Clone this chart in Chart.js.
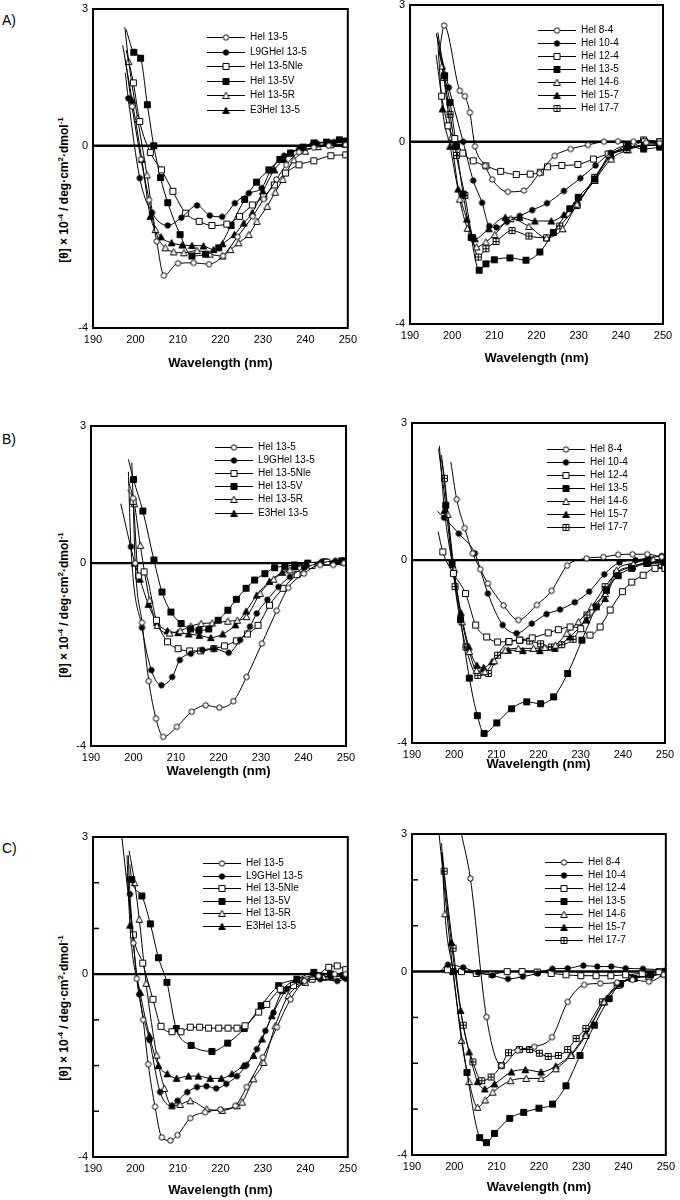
<!DOCTYPE html>
<html>
<head>
<meta charset="utf-8">
<script src="https://cdn.jsdelivr.net/npm/chart.js@4.4.0/dist/chart.umd.min.js"></script>
<style>
  body { margin:0; background:#fff; width:680px; height:1200px; position:relative; overflow:hidden; font-family:"Liberation Sans", Arial, sans-serif; color:#000; }
  canvas { position:absolute; }
  .tag { position:absolute; left:2px; font-size:14px; }
  .ytitle { position:absolute; left:63px; font-size:12px; font-weight:bold; white-space:nowrap; transform:translate(-50%,-50%) rotate(-90deg); }
  .ytitle sup { font-size:8px; }
</style>
</head>
<body>
<div class="tag" style="top:12px">A)</div>
<div class="tag" style="top:431px">B)</div>
<div class="tag" style="top:840px">C)</div>
<div class="ytitle" style="top:190px">[θ] × 10<sup>-4</sup> / deg·cm<sup>2</sup>·dmol<sup>-1</sup></div>
<div class="ytitle" style="top:605px">[θ] × 10<sup>-4</sup> / deg·cm<sup>2</sup>·dmol<sup>-1</sup></div>
<div class="ytitle" style="top:1008px">[θ] × 10<sup>-4</sup> / deg·cm<sup>2</sup>·dmol<sup>-1</sup></div>
<script>
// axis ticks
const wavelengthTicks = [190, 200, 210, 220, 230, 240, 250];
const thetaTickLabels = [3, 0, -4];
const thetaMinorTicks = [2, 1, -1, -2, -3];

// legend names
const leftNames = ['Hel 13-5', 'L9GHel 13-5', 'Hel 13-5Nle', 'Hel 13-5V', 'Hel 13-5R', 'E3Hel 13-5'];
const rightNames = ['Hel 8-4', 'Hel 10-4', 'Hel 12-4', 'Hel 13-5', 'Hel 14-6', 'Hel 15-7', 'Hel 17-7'];

// ---- panel A, left : [wavelength nm, value]
const aL_hel13_5 = [[197.6,1.9],[199.2,0.86],[201.3,-0.3],[203.2,-1.19],[205,-2.1],[206.7,-2.85],[210,-2.58],[213.7,-2.57],[217.3,-2.6],[220.6,-2.42],[224,-2.0],[227.6,-1.55],[230.2,-1.17],[233.2,-0.74],[235.5,-0.42],[238.5,-0.14],[242,-0.04],[245.5,0.0],[249.5,0.02]];
const aL_l9g = [[197.6,1.6],[198.3,1.04],[201,-0.71],[203.9,-1.47],[207.6,-1.75],[210.8,-1.58],[214.5,-1.31],[217.5,-1.53],[220.4,-1.56],[223.4,-1.26],[226.7,-1.04],[229.7,-0.93],[231.8,-0.55],[235,-0.22],[238.5,-0.08],[242.7,0.05],[246.7,0.08],[249.5,0.1]];
const aL_nle = [[197.8,2.1],[199.5,1.38],[201,0.53],[203.5,-0.15],[206.1,-0.53],[208.8,-1.0],[211.8,-1.48],[215,-1.66],[218,-1.75],[221.5,-1.72],[224.5,-1.55],[227.5,-1.3],[230.2,-1.12],[232.7,-0.86],[235.3,-0.6],[238.5,-0.42],[242,-0.33],[246,-0.22],[249.5,-0.2]];
const aL_v = [[197.8,2.55],[199.6,2.05],[201.2,1.92],[202.8,0.9],[204.3,0.0],[205.9,-0.7],[207.6,-1.25],[210.5,-1.95],[213.3,-2.42],[216.5,-2.38],[219.6,-2.24],[222.5,-1.75],[225.7,-1.18],[228.5,-0.8],[231.4,-0.53],[234,-0.3],[236.5,-0.16],[239.5,-0.03],[242,0.06],[245,0.08],[248,0.13],[249.5,0.1]];
const aL_r = [[197.5,2.6],[198.4,1.85],[200.5,0.6],[202.7,-0.64],[204.7,-1.84],[207,-2.24],[209,-2.33],[211.4,-2.35],[214.5,-2.3],[217.5,-2.38],[220.5,-2.42],[222.4,-2.28],[224.3,-2.13],[226.7,-1.95],[228.6,-1.66],[231,-1.33],[232.9,-1.02],[234.7,-0.74],[237.3,-0.31],[240,-0.12],[243,-0.02],[246,0.02],[249.5,0.03]];
const aL_e3 = [[197,2.2],[199.2,1.0],[201.5,-0.3],[203.5,-1.55],[206,-2.0],[208.5,-2.13],[211,-2.18],[213.3,-2.19],[216,-2.2],[218.4,-2.28],[220.5,-2.15],[223.3,-1.95],[225.5,-1.7],[227.5,-1.47],[230,-1.0],[232.7,-0.53],[235,-0.3],[236.6,-0.16],[239,-0.05],[242.4,0.07],[246,0.06],[249.5,0.08]];

// ---- panel A, right
const aR_hel8_4 = [[197,2.0],[198.1,2.55],[201.8,1.12],[203,1.0],[204.2,0.64],[205.4,-0.1],[207.8,-0.53],[209.5,-0.83],[213.2,-1.1],[217,-1.07],[220.7,-0.69],[224.3,-0.31],[228.1,-0.16],[232.2,-0.07],[236,0.0],[239.3,0.01],[243,0.0],[246,-0.02],[249.2,-0.03]];
const aR_hel10_4 = [[196.2,2.38],[199.2,1.19],[202.6,0.0],[205,-0.85],[207.1,-1.34],[208.8,-1.85],[210.5,-1.88],[213,-1.76],[216,-1.63],[219,-1.5],[222.5,-1.35],[226.5,-1.08],[230.4,-0.8],[234,-0.52],[237.6,-0.25],[241.4,-0.15],[245.6,-0.06],[249.3,-0.04]];
const aR_hel12_4 = [[196.2,1.9],[197.5,1.0],[199,0.35],[200.6,0.07],[202.5,-0.25],[205,-0.42],[208,-0.53],[211.5,-0.65],[215.2,-0.72],[218.5,-0.71],[220.9,-0.67],[222.6,-0.55],[226,-0.52],[229.8,-0.5],[233.5,-0.38],[237,-0.27],[241.4,-0.17],[245.6,0.0],[249.3,0.0]];
const aR_hel13_5 = [[196.6,2.4],[198.2,1.45],[199.5,0.86],[201,-0.1],[202.6,-1.15],[204.5,-2.1],[206.4,-2.82],[208,-2.68],[210,-2.59],[213.7,-2.55],[217.5,-2.6],[220.8,-2.42],[224,-1.99],[227.9,-1.47],[229.9,-1.22],[233.8,-0.82],[237.4,-0.27],[241.7,-0.09],[245.4,-0.16],[249.2,-0.12]];
const aR_hel14_6 = [[196.8,2.0],[197.6,1.66],[199.8,0.1],[201.8,-1.26],[203.6,-1.9],[205.8,-2.31],[208,-2.2],[210.1,-2.04],[213.9,-1.69],[218.2,-1.86],[222.4,-2.11],[226.2,-1.91],[229.6,-1.37],[233.8,-0.85],[237.7,-0.38],[241.7,-0.18],[245.4,-0.09],[249.3,-0.08]];
const aR_hel15_7 = [[196.5,2.3],[197.7,0.72],[199.5,-0.1],[201.4,-1.04],[203.5,-1.7],[205.4,-2.13],[208.7,-1.91],[212.6,-1.66],[216,-1.66],[219.6,-1.74],[223.5,-1.74],[226.5,-1.6],[229.6,-1.33],[233.8,-0.82],[237.7,-0.31],[241.4,-0.15],[245.4,-0.09],[249.3,-0.06]];
const aR_hel17_7 = [[197,2.0],[198.1,1.41],[199.5,0.6],[201,-0.3],[203,-1.18],[204.8,-2.1],[206.2,-2.53],[208,-2.35],[210.4,-2.19],[214.2,-1.95],[218.2,-2.07],[222.4,-2.11],[225.5,-1.85],[229.6,-1.4],[233.8,-0.78],[237.5,-0.31],[241.3,-0.09],[245.4,0.04],[249.2,0.0]];

// ---- panel B, left
const bL_hel13_5 = [[199.6,2.2],[199.9,1.42],[200.4,0.0],[202,-1.3],[203.6,-2.58],[205.3,-3.4],[207,-3.8],[210.2,-3.58],[213.7,-3.25],[217,-3.11],[220.2,-3.16],[223.5,-3.02],[226.6,-2.49],[230.2,-1.76],[233.7,-1.04],[236.4,-0.54],[240.1,-0.23],[243.9,-0.04],[247,-0.04],[249.5,0.0]];
const bL_l9g = [[198.8,2.0],[199.4,0.36],[202,-1.41],[204.2,-2.34],[206.6,-2.67],[209.1,-2.49],[210.9,-2.12],[213.5,-1.98],[216.2,-1.9],[218.9,-1.87],[222.4,-1.96],[225.1,-1.68],[227.4,-1.39],[229,-1.1],[231.5,-0.8],[234.1,-0.52],[236.8,-0.3],[240.2,-0.1],[244,0.0],[247.5,0.05],[249.5,0.05]];
const bL_nle = [[198.6,1.6],[199.9,1.35],[201.2,-0.28],[202.5,-0.19],[205.4,-1.25],[208,-1.72],[210.5,-1.87],[213.2,-1.92],[215.8,-1.92],[218.9,-1.87],[221.4,-1.81],[224.2,-1.7],[226.8,-1.55],[229.3,-1.36],[232,-0.92],[235.2,-0.55],[238.5,-0.25],[242,-0.05],[245.5,0.02],[249.5,0.02]];
const bL_v = [[198.8,2.27],[200,1.83],[202.2,1.14],[204.8,0.07],[206.7,-0.63],[208.8,-1.07],[211.2,-1.32],[213.4,-1.44],[215.4,-1.47],[217.7,-1.44],[219.9,-1.25],[222.2,-1.03],[224.2,-0.79],[226.5,-0.55],[228.5,-0.37],[230.9,-0.23],[233.2,-0.1],[235.6,-0.07],[237.9,-0.04],[241,0.0],[245,0.03],[249,0.05]];
const bL_r = [[198.8,1.8],[200.2,1.3],[201.6,0.39],[203.8,-0.81],[205.6,-1.36],[208.5,-1.53],[211,-1.48],[213.5,-1.38],[215.9,-1.32],[218.5,-1.31],[222.2,-1.27],[224.4,-1.25],[226.6,-1.17],[229.8,-0.66],[233,-0.35],[236.8,-0.15],[240.2,-0.04],[244,0.02],[249,0.05]];
const bL_e3 = [[197,1.3],[200.3,0.0],[201.5,-0.35],[203.5,-0.9],[205.5,-1.3],[208,-1.48],[210.5,-1.52],[213,-1.55],[215.5,-1.58],[218.2,-1.63],[221,-1.55],[224,-1.35],[226.5,-1.05],[229,-0.7],[232,-0.4],[235,-0.2],[238,-0.08],[241,0.0],[245,0.03],[249,0.05]];

// ---- panel B, right
const bR_hel8_4 = [[199.2,2.15],[200.6,1.33],[202.5,0.7],[204.4,0.15],[206.2,-0.2],[208,-0.51],[211.7,-0.99],[215.2,-1.31],[219.6,-0.98],[223.1,-0.67],[226.8,-0.12],[231.4,0.04],[235.4,0.07],[238.9,0.12],[242.3,0.13],[245.8,0.13],[249.2,0.07]];
const bR_hel10_4 = [[196,1.07],[197.6,0.93],[201.1,0.58],[204.9,0.15],[208,-0.73],[211.5,-1.42],[214.8,-1.6],[218.4,-1.39],[221.9,-1.18],[225.1,-1.08],[228.6,-0.92],[232,-0.69],[235.6,-0.31],[239.2,-0.05],[243,0.0],[246,0.05],[249.2,0.09]];
const bR_hel12_4 = [[196.2,0.62],[197.3,0.18],[199.8,-0.29],[202.7,-0.73],[205.1,-1.42],[207.7,-1.68],[210.3,-1.79],[213,-1.78],[215.5,-1.75],[218.5,-1.7],[222.3,-1.59],[224.7,-1.52],[227.5,-1.46],[230,-1.5],[232.2,-1.64],[234.6,-1.46],[237,-1.09],[239.9,-0.69],[242.1,-0.48],[244.8,-0.33],[247.6,-0.18],[250,-0.18]];
const bR_hel13_5 = [[196.3,2.44],[198,1.2],[199.5,-0.05],[201.5,-1.3],[203.6,-2.58],[205.5,-3.4],[207.1,-3.79],[210.1,-3.56],[213.6,-3.25],[217.2,-3.1],[220.5,-3.14],[223.6,-2.99],[226.9,-2.48],[230.3,-1.75],[233.7,-1.02],[236.1,-0.66],[238.9,-0.34],[242.1,-0.18],[245.7,-0.07],[249.6,0.0]];
const bR_hel14_6 = [[197,2.3],[198.5,1.0],[200,-0.2],[201.9,-1.35],[203.6,-2.0],[205.3,-2.41],[207.3,-2.44],[209.5,-2.2],[212.1,-1.97],[215.2,-1.93],[218.8,-1.93],[221.5,-1.91],[224,-1.86],[226.7,-1.6],[229.5,-1.35],[232.6,-1.02],[235.8,-0.73],[238.5,-0.22],[242.5,-0.07],[247.2,0.02],[250,-0.15]];
const bR_hel15_7 = [[196.5,2.5],[197.7,1.09],[199.6,-0.1],[201.6,-1.15],[203.5,-1.9],[205.4,-2.3],[207,-2.35],[209,-2.22],[212.8,-1.97],[216.3,-1.98],[220.3,-1.98],[223.9,-1.93],[227.4,-1.68],[231.4,-1.31],[235.8,-0.84],[238.5,-0.29],[242.3,-0.14],[246,-0.05],[249.9,-0.05]];
const bR_hel17_7 = [[197,2.2],[197.7,1.79],[200.2,-0.58],[202.8,-1.9],[205.6,-2.52],[208.1,-2.48],[210.3,-2.08],[212.9,-1.79],[215.6,-1.75],[217.9,-1.77],[220.5,-1.83],[223.1,-1.9],[225.5,-1.85],[228.2,-1.73],[231.5,-1.2],[235.8,-0.58],[238.5,-0.29],[242.1,-0.15],[245.7,-0.07],[249.2,-0.09]];

// ---- panel C, left
const cL_hel13_5 = [[196.8,3.0],[199.5,0.68],[200.3,-0.1],[201.8,-1.0],[203,-1.97],[204.6,-2.9],[206.2,-3.57],[208.2,-3.64],[209.9,-3.52],[212.9,-3.15],[216.4,-3.02],[220,-2.96],[223.5,-2.88],[226.2,-2.47],[230,-1.82],[233.3,-1.16],[236.5,-0.55],[239.8,-0.15],[243.1,-0.04],[246.9,0.0],[249.5,0.0]];
const cL_l9g = [[198.3,2.6],[198.7,1.75],[200.9,-0.44],[203.3,-1.44],[205.8,-2.58],[208.6,-2.88],[209.9,-2.77],[212.2,-2.58],[214.5,-2.47],[216.7,-2.45],[219,-2.5],[221.4,-2.4],[223.9,-2.23],[226.1,-1.99],[228.6,-1.64],[230.6,-1.24],[232.5,-0.84],[235.7,-0.33],[239.6,-0.15],[243.5,-0.11],[247.5,-0.15],[249.5,-0.1]];
const cL_nle = [[198,2.2],[199.5,0.86],[201.7,0.24],[204.1,-0.55],[206,-1.14],[208.6,-1.26],[210.7,-1.26],[212.9,-1.16],[215.1,-1.16],[217.2,-1.18],[219.6,-1.18],[221.8,-1.18],[223.9,-1.18],[225.8,-1.13],[229,-0.83],[230.9,-0.66],[234.1,-0.33],[237.2,-0.25],[241.6,-0.11],[245.5,0.15],[247.5,0.18],[249.5,0.1]];
const cL_v = [[198.7,2.4],[199.1,2.07],[201.5,1.71],[203.5,1.1],[205.4,0.36],[207.4,-0.18],[209.6,-1.19],[213.1,-1.56],[218,-1.69],[221.7,-1.51],[225.6,-1.19],[229.6,-0.69],[233.7,-0.25],[238,-0.11],[242,0.04],[245.9,0.0],[249,-0.03]];
const cL_r = [[198.5,2.7],[199.8,2.0],[200.9,1.2],[202.5,-0.2],[205,-1.77],[206.8,-2.5],[208.6,-2.88],[210.5,-2.85],[212.9,-2.77],[216.8,-2.95],[220.4,-2.98],[223.9,-2.88],[225.1,-2.8],[227.8,-2.29],[230.2,-1.93],[232.9,-1.13],[236,-0.47],[240,-0.18],[244.3,-0.07],[249,-0.03]];
const cL_e3 = [[198,2.6],[198.7,1.07],[201.1,-0.4],[203.3,-1.35],[205.4,-2.0],[207.5,-2.18],[209.7,-2.28],[212.5,-2.23],[214.8,-2.23],[217.6,-2.28],[220.2,-2.28],[222.7,-2.18],[225.4,-2.0],[227.8,-1.78],[229.8,-1.42],[232.1,-0.91],[234.6,-0.36],[238,-0.12],[242,-0.05],[246,-0.05],[249.5,-0.05]];

// ---- panel C, right
const cR_hel8_4 = [[201.7,3.0],[203.8,2.03],[207.6,-0.99],[211.1,-2.05],[215,-1.72],[218.9,-1.64],[223.1,-1.43],[226.8,-0.66],[230.7,-0.29],[234.5,-0.26],[238.5,-0.24],[242.1,-0.18],[246,-0.22],[249.5,-0.07]];
const cR_hel10_4 = [[196.6,0.0],[198.5,0.15],[202.1,0.09],[205.6,-0.02],[209,-0.08],[212.7,-0.16],[216.2,-0.11],[219.7,-0.04],[223.2,0.06],[226.8,0.07],[230.5,0.13],[233.8,0.11],[237.1,0.11],[240.5,0.07],[244.6,0.06],[250,0.03]];
const cR_hel12_4 = [[196.6,0.02],[198.4,0.04],[201.7,0.0],[205.2,-0.04],[208.9,-0.06],[212.5,0.0],[216,0.0],[219.6,-0.01],[222.9,-0.04],[226.4,-0.07],[229.9,-0.09],[233.5,-0.09],[237,-0.09],[240.5,-0.07],[244.4,-0.04],[248.4,0.0],[250,0.0]];
const cR_hel13_5 = [[196.4,3.0],[199.7,0.0],[203,-2.2],[206,-3.62],[207.6,-3.73],[209.5,-3.53],[213.1,-3.2],[216.4,-3.07],[220,-2.98],[223.2,-2.89],[226.4,-2.49],[229.7,-1.83],[233.1,-1.17],[236.6,-0.59],[239.3,-0.26],[242.5,-0.15],[246.4,-0.07],[249.9,0.0]];
const cR_hel14_6 = [[197,2.8],[197.8,1.26],[199.7,0.0],[201.7,-1.5],[203.5,-2.4],[205.5,-2.96],[207.3,-2.8],[209.1,-2.63],[213.3,-2.38],[217,-2.33],[220.5,-2.33],[224,-2.12],[227.6,-1.83],[231.1,-1.39],[235.4,-0.66],[239,-0.29],[242.1,-0.15],[246,-0.11],[249.5,-0.04]];
const cR_hel15_7 = [[197,2.6],[199.3,0.64],[201.5,-0.85],[203.5,-1.75],[205.5,-2.4],[207.2,-2.56],[209.5,-2.45],[213.5,-2.19],[216.8,-2.14],[220.5,-2.19],[224,-2.06],[227.6,-1.8],[231.1,-1.35],[235.4,-0.66],[239,-0.27],[242.1,-0.13],[246,-0.09],[249.5,-0.04]];
const cR_hel17_7 = [[197.2,2.6],[197.6,2.19],[199.7,0.51],[202.1,-1.17],[204.4,-1.97],[206.5,-2.38],[208.7,-2.3],[211.1,-2.05],[212.8,-1.77],[215.4,-1.7],[217.8,-1.7],[220.1,-1.78],[222.2,-1.85],[224.6,-1.83],[226.8,-1.7],[228.8,-1.46],[231.1,-1.24],[235,-0.66],[238.5,-0.3],[242,-0.15],[246,-0.08],[249.5,-0.05]];


// small marker images, used both on the curves and in the legends
function makeMarker(kind){
  const c = document.createElement('canvas');
  c.width = 9; c.height = 9;
  const g = c.getContext('2d');
  g.lineWidth = 1;
  g.strokeStyle = '#000';
  g.fillStyle = kind.startsWith('filled') ? '#000' : '#fff';
  g.beginPath();
  if (kind.endsWith('Circle')) g.arc(4.5, 4.5, 2.7, 0, Math.PI * 2);
  else if (kind.endsWith('Square')) g.rect(1.5, 1.5, 6, 6);
  else { g.moveTo(4.5, 1.2); g.lineTo(7.8, 7.5); g.lineTo(1.2, 7.5); g.closePath(); }
  g.fill();
  g.stroke();
  if (kind === 'crossSquare') {
    g.beginPath();
    g.moveTo(4.5, 1.5); g.lineTo(4.5, 7.5);
    g.moveTo(1.5, 4.5); g.lineTo(7.5, 4.5);
    g.stroke();
  }
  return c;
}
const leftMarkers = ['openCircle','filledCircle','openSquare','filledSquare','openTriangle','filledTriangle'];
const rightMarkers = ['openCircle','filledCircle','openSquare','filledSquare','openTriangle','filledTriangle','crossSquare'];
const markerImg = {};
rightMarkers.forEach(k => markerImg[k] = makeMarker(k));

// plot box [left, top, right, bottom] on the page, x-title centre, legend [x, y, row gap] inside plot
const panels = [
  {names:leftNames,  markers:leftMarkers,  series:[aL_hel13_5,aL_l9g,aL_nle,aL_v,aL_r,aL_e3], box:[93,9,348,328],   xTitleY:363,  legend:[114,28,14.5], innerTicks:false},
  {names:rightNames, markers:rightMarkers, series:[aR_hel8_4,aR_hel10_4,aR_hel12_4,aR_hel13_5,aR_hel14_6,aR_hel15_7,aR_hel17_7], box:[410,5,663,324], xTitleY:358, legend:[128,25,13], innerTicks:false},
  {names:leftNames,  markers:leftMarkers,  series:[bL_hel13_5,bL_l9g,bL_nle,bL_v,bL_r,bL_e3], box:[91,426,346,746], xTitleY:771,  legend:[124,21,13.1], innerTicks:false},
  {names:rightNames, markers:rightMarkers, series:[bR_hel8_4,bR_hel10_4,bR_hel12_4,bR_hel13_5,bR_hel14_6,bR_hel15_7,bR_hel17_7], box:[412,423,665,743], xTitleY:764, legend:[135,26,13], innerTicks:false},
  {names:leftNames,  markers:leftMarkers,  series:[cL_hel13_5,cL_l9g,cL_nle,cL_v,cL_r,cL_e3], box:[93,837,348,1157], xTitleY:1190, legend:[110,26,12.6], innerTicks:true},
  {names:rightNames, markers:rightMarkers, series:[cR_hel8_4,cR_hel10_4,cR_hel12_4,cR_hel13_5,cR_hel14_6,cR_hel15_7,cR_hel17_7], box:[412,834,667,1155], xTitleY:1187, legend:[133,28,13], innerTicks:true},
];

function framePlugin(p){
  return {
    id: 'frame',
    beforeDatasetsDraw(chart){
      const {ctx, chartArea:a} = chart;
      const y0 = chart.scales.y.getPixelForValue(0);
      ctx.save();
      ctx.strokeStyle = '#000';
      ctx.lineWidth = 2.4;
      ctx.beginPath();
      ctx.moveTo(a.left, y0);
      ctx.lineTo(a.right, y0);
      ctx.stroke();
      ctx.restore();
    },
    afterDraw(chart){
      const {ctx, chartArea:a} = chart;
      ctx.save();
      ctx.strokeStyle = '#000';
      ctx.lineWidth = 2;
      ctx.strokeRect(a.left, a.top, a.right - a.left, a.bottom - a.top);
      if (p.innerTicks) {
        ctx.lineWidth = 1.5;
        thetaMinorTicks.forEach(v => {
          const y = chart.scales.y.getPixelForValue(v);
          ctx.beginPath();
          ctx.moveTo(a.left, y);
          ctx.lineTo(a.left + 6, y);
          ctx.stroke();
        });
      }
      // legend
      const [lx, ly, gap] = p.legend;
      ctx.lineWidth = 1;
      ctx.font = '10px "Liberation Sans", Arial, sans-serif';
      ctx.fillStyle = '#000';
      ctx.textBaseline = 'middle';
      p.names.forEach((name, i) => {
        const x = a.left + lx, y = Math.round(a.top + ly + i * gap) + 0.5;
        ctx.beginPath();
        ctx.moveTo(x, y);
        ctx.lineTo(x + 38, y);
        ctx.stroke();
        ctx.drawImage(markerImg[p.markers[i]], Math.round(x + 19) - 4.5, y - 4.5);
        ctx.fillText(name, x + 43, y);
      });
      ctx.restore();
    }
  };
}

panels.forEach(p => {
  const [bl, bt, br, bb] = p.box;
  const cl = bl < 380 ? 0 : 350;
  const cw = bl < 380 ? 362 : 330;
  const ct = bt - 12;
  const ch = p.xTitleY + 12 - ct;
  const cv = document.createElement('canvas');
  cv.width = cw; cv.height = ch;
  cv.style.left = cl + 'px';
  cv.style.top = ct + 'px';
  document.body.appendChild(cv);

  new Chart(cv, {
    type: 'line',
    data: {
      datasets: p.series.map((s, i) => ({
        label: p.names[i],
        data: s.map(d => ({x: d[0], y: d[1]})),
        borderColor: '#000',
        borderWidth: 1,
        fill: false,
        cubicInterpolationMode: 'monotone',
        pointStyle: markerImg[p.markers[i]],
        pointRadius: c => c.dataIndex === 0 ? 0 : 3,
      }))
    },
    options: {
      responsive: false,
      animation: false,
      events: [],
      layout: { autoPadding: false, padding: { left: 0, top: bt - ct, right: cl + cw - br, bottom: 0 } },
      plugins: { legend: { display: false }, tooltip: { enabled: false } },
      scales: {
        x: {
          type: 'linear', min: 190, max: 250,
          afterFit: s => { s.height = p.xTitleY + 12 - bb; },
          afterBuildTicks: s => { s.ticks = wavelengthTicks.map(v => ({value: v})); },
          grid: { display: false, drawTicks: false },
          border: { display: false },
          ticks: { color: '#000', font: { size: 11, family: '"Liberation Sans", Arial, sans-serif' }, padding: 5, maxRotation: 0, autoSkip: false },
          title: { display: true, text: 'Wavelength (nm)', color: '#000', font: { size: 13, weight: 'bold', family: '"Liberation Sans", Arial, sans-serif' }, padding: { top: 0, bottom: 4 } }
        },
        y: {
          type: 'linear', min: -4, max: 3,
          afterFit: s => { s.width = bl - cl; },
          afterBuildTicks: s => { s.ticks = thetaTickLabels.map(v => ({value: v})); },
          grid: { display: false, drawTicks: false },
          border: { display: false },
          ticks: { color: '#000', font: { size: 11, family: '"Liberation Sans", Arial, sans-serif' }, padding: 5, autoSkip: false }
        }
      }
    },
    plugins: [framePlugin(p)]
  });
});
</script>
</body>
</html>
